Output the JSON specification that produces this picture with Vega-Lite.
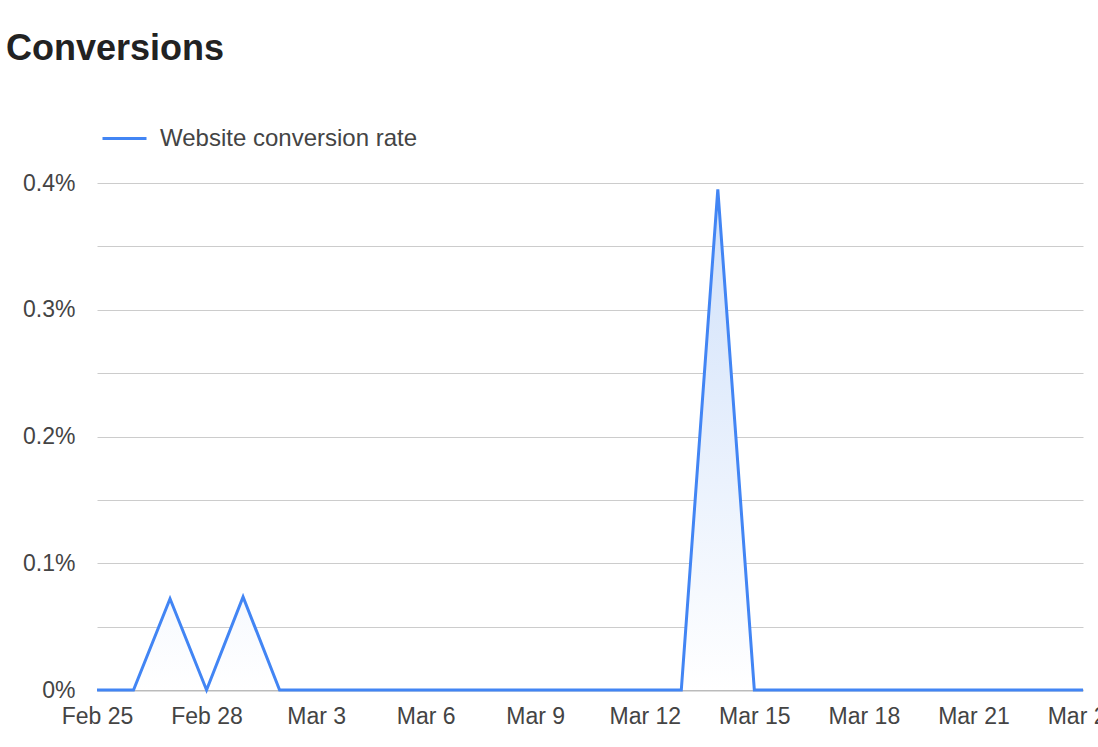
{
  "$schema": "https://vega.github.io/schema/vega-lite/v6.json",
  "width": 986,
  "height": 507,
  "autosize": "none",
  "padding": {"left": 97, "top": 183, "right": 15, "bottom": 57},
  "background": "white",
  "title": {
    "text": "Conversions",
    "anchor": "start",
    "frame": "group",
    "dx": -91,
    "offset": 47,
    "fontSize": 36,
    "font": "Arial, Liberation Sans",
    "fontWeight": "bold",
    "color": "#222222"
  },
  "data": {
    "values": [
      {"date": "2023-02-25", "rate": 0},
      {"date": "2023-02-26", "rate": 0},
      {"date": "2023-02-27", "rate": 0.00072},
      {"date": "2023-02-28", "rate": 0},
      {"date": "2023-03-01", "rate": 0.000735},
      {"date": "2023-03-02", "rate": 0},
      {"date": "2023-03-03", "rate": 0},
      {"date": "2023-03-04", "rate": 0},
      {"date": "2023-03-05", "rate": 0},
      {"date": "2023-03-06", "rate": 0},
      {"date": "2023-03-07", "rate": 0},
      {"date": "2023-03-08", "rate": 0},
      {"date": "2023-03-09", "rate": 0},
      {"date": "2023-03-10", "rate": 0},
      {"date": "2023-03-11", "rate": 0},
      {"date": "2023-03-12", "rate": 0},
      {"date": "2023-03-13", "rate": 0},
      {"date": "2023-03-14", "rate": 0.00395},
      {"date": "2023-03-15", "rate": 0},
      {"date": "2023-03-16", "rate": 0},
      {"date": "2023-03-17", "rate": 0},
      {"date": "2023-03-18", "rate": 0},
      {"date": "2023-03-19", "rate": 0},
      {"date": "2023-03-20", "rate": 0},
      {"date": "2023-03-21", "rate": 0},
      {"date": "2023-03-22", "rate": 0},
      {"date": "2023-03-23", "rate": 0},
      {"date": "2023-03-24", "rate": 0}
    ]
  },
  "encoding": {
    "x": {
      "field": "date",
      "type": "temporal",
      "scale": {"type": "utc", "nice": false},
      "axis": {
        "title": null,
        "values": [
          {"year": 2023, "month": "feb", "date": 25, "utc": true},
          {"year": 2023, "month": "feb", "date": 28, "utc": true},
          {"year": 2023, "month": "mar", "date": 3, "utc": true},
          {"year": 2023, "month": "mar", "date": 6, "utc": true},
          {"year": 2023, "month": "mar", "date": 9, "utc": true},
          {"year": 2023, "month": "mar", "date": 12, "utc": true},
          {"year": 2023, "month": "mar", "date": 15, "utc": true},
          {"year": 2023, "month": "mar", "date": 18, "utc": true},
          {"year": 2023, "month": "mar", "date": 21, "utc": true},
          {"year": 2023, "month": "mar", "date": 24, "utc": true}
        ],
        "format": "%b %-d",
        "grid": false,
        "ticks": false,
        "domain": true,
        "domainColor": "#bbbbbb",
        "domainWidth": 2,
        "labelFont": "Arial, Liberation Sans",
        "labelFontSize": 23,
        "labelColor": "#444444",
        "labelPadding": 15,
        "labelOverlap": false,
        "labelFlush": false,
        "labelBound": false
      }
    },
    "y": {
      "field": "rate",
      "type": "quantitative",
      "scale": {"domain": [0, 0.004], "nice": false, "zero": true},
      "axis": {
        "title": null,
        "values": [0, 0.0005, 0.001, 0.0015, 0.002, 0.0025, 0.003, 0.0035, 0.004],
        "labelExpr": "round(datum.value * 10000) % 10 == 0 ? format(datum.value, '.1~%') : ''",
        "grid": true,
        "gridColor": "#cccccc",
        "gridWidth": 1,
        "ticks": false,
        "domain": false,
        "labelFont": "Arial, Liberation Sans",
        "labelFontSize": 23,
        "labelColor": "#444444",
        "labelPadding": 22
      }
    }
  },
  "layer": [
    {
      "mark": {
        "type": "area",
        "line": false,
        "color": {
          "gradient": "linear",
          "x1": 1, "y1": 1, "x2": 1, "y2": 0,
          "stops": [
            {"offset": 0, "color": "#ffffff"},
            {"offset": 1, "color": "#cfe0fa"}
          ]
        }
      }
    },
    {
      "mark": {"type": "line", "strokeWidth": 3, "strokeJoin": "miter"},
      "encoding": {
        "color": {
          "datum": "Website conversion rate",
          "scale": {"range": ["#4285F4"]},
          "legend": {
            "orient": "none",
            "legendX": 4,
            "legendY": -68,
            "title": null,
            "symbolType": "stroke",
            "symbolSize": 1936,
            "symbolStrokeWidth": 3,
            "labelFontSize": 24,
            "labelFont": "Arial, Liberation Sans",
            "labelColor": "#444444",
            "labelOffset": 12,
            "labelLimit": 600,
            "padding": 0
          }
        }
      }
    }
  ],
  "config": {"view": {"stroke": null}}
}
